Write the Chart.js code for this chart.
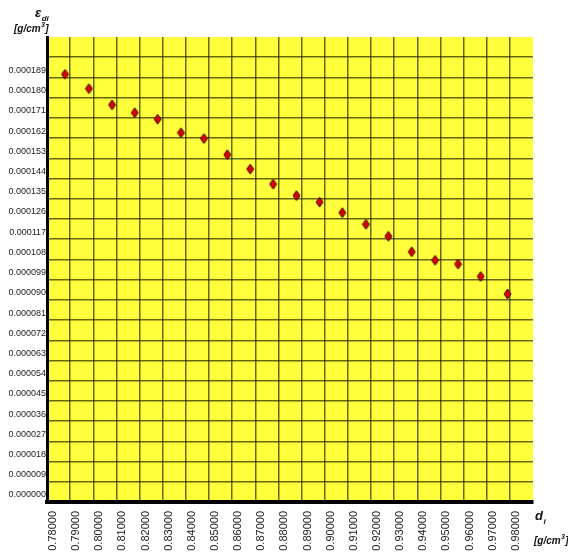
<!DOCTYPE html>
<html>
<head>
<meta charset="utf-8">
<script src="https://cdn.jsdelivr.net/npm/chart.js@4.4.1/dist/chart.umd.min.js"></script>
<style>
  html, body { margin: 0; padding: 0; background: #ffffff; }
  #wrap { position: relative; width: 568px; height: 554px; }
</style>
</head>
<body>
<div id="wrap"><canvas id="c" width="568" height="554"></canvas></div>
<script>
// ---- data ----
const densities = [0.7878, 0.7981, 0.8081, 0.8179, 0.8278, 0.8379, 0.8478, 0.8579, 0.8678, 0.8777,
                   0.8878, 0.8978, 0.9076, 0.9178, 0.9275, 0.9376, 0.9477, 0.9576, 0.9674, 0.9790];
const epsilonValues = [0.0001904, 0.0001840, 0.0001768, 0.0001733, 0.0001704, 0.0001644, 0.0001618,
                       0.0001546, 0.0001482, 0.0001415, 0.0001364, 0.0001335, 0.0001288, 0.0001236,
                       0.0001183, 0.0001114, 0.0001076, 0.0001059, 0.0001004, 0.0000926];
const xTickLabels = ['0.78000','0.79000','0.80000','0.81000','0.82000','0.83000','0.84000',
                     '0.85000','0.86000','0.87000','0.88000','0.89000','0.90000','0.91000',
                     '0.92000','0.93000','0.94000','0.95000','0.96000','0.97000','0.98000'];
const yTickLabels = ['0.000000','0.000009','0.000018','0.000027','0.000036','0.000045','0.000054',
                     '0.000063','0.000072','0.000081','0.000090','0.000099','0.000108','0.000117',
                     '0.000126','0.000135','0.000144','0.000153','0.000162','0.000171','0.000180',
                     '0.000189'];
const yExtraGrid = [0.000198];
const xRange = [0.78, 0.99];
const yRange = [0, 0.000207];

const xTickValues = xTickLabels.map(Number);
const yTickValues = yTickLabels.map(Number).concat(yExtraGrid);

// diamond marker
function makeDiamond(w, h) {
  const cv = document.createElement('canvas');
  cv.width = w + 2; cv.height = h + 2;
  const g = cv.getContext('2d');
  const cx = cv.width / 2, cy = cv.height / 2;
  g.beginPath();
  g.moveTo(cx, cy - h / 2);
  g.lineTo(cx + w / 2, cy);
  g.lineTo(cx, cy + h / 2);
  g.lineTo(cx - w / 2, cy);
  g.closePath();
  g.fillStyle = '#e00000';
  g.fill();
  g.lineWidth = 1;
  g.strokeStyle = '#3a1000';
  g.stroke();
  return cv;
}
const diamond = makeDiamond(7, 10);

const plotBg = {
  id: 'plotBg',
  beforeDraw(chart) {
    const { ctx, chartArea: a } = chart;
    ctx.save();
    ctx.fillStyle = '#ffff3c';
    ctx.fillRect(a.left, a.top, a.right - a.left, a.bottom - a.top);
    ctx.restore();
  }
};

function drawSubTitle(ctx, x, y, main, sub, font, subFont) {
  ctx.font = font;
  ctx.fillText(main, x, y);
  const w = ctx.measureText(main).width;
  ctx.font = subFont;
  ctx.fillText(sub, x + w + 0.5, y + 4);
}
function drawUnit(ctx, x, y) {
  const f = 'bold italic 10px "Liberation Sans", Arial, sans-serif';
  const fs = 'bold italic 6.5px "Liberation Sans", Arial, sans-serif';
  ctx.font = f;
  ctx.fillText('[g/cm', x, y);
  let w = ctx.measureText('[g/cm').width;
  ctx.font = fs;
  ctx.fillText('3', x + w + 0.5, y - 5);
  const w3 = ctx.measureText('3').width;
  ctx.font = f;
  ctx.fillText(']', x + w + w3 + 1, y);
}

const axisTitles = {
  id: 'axisTitles',
  afterDraw(chart) {
    const ctx = chart.ctx;
    ctx.save();
    ctx.fillStyle = '#111';
    ctx.textBaseline = 'alphabetic';
    ctx.textAlign = 'left';
    drawSubTitle(ctx, 35, 17, 'ε', 'di',
      'bold italic 13px "Liberation Sans", Arial, sans-serif',
      'bold italic 8px "Liberation Sans", Arial, sans-serif');
    drawUnit(ctx, 14, 32);
    drawSubTitle(ctx, 535, 520, 'd', 'i',
      'bold italic 13px "Liberation Sans", Arial, sans-serif',
      'bold italic 8px "Liberation Sans", Arial, sans-serif');
    drawUnit(ctx, 534, 544);
    ctx.restore();
  }
};

const gridColor = 'rgba(45,45,0,0.72)';

new Chart(document.getElementById('c'), {
  type: 'scatter',
  data: {
    datasets: [{
      data: densities.map((d, i) => ({ x: d, y: epsilonValues[i] })),
      pointStyle: diamond,
      pointRadius: 5,
      pointHoverRadius: 5,
      showLine: false
    }]
  },
  options: {
    responsive: false,
    animation: false,
    devicePixelRatio: 1,
    layout: { padding: { top: 37, right: 35, left: 0, bottom: 0 } },
    plugins: { legend: { display: false }, tooltip: { enabled: false } },
    scales: {
      x: {
        type: 'linear',
        min: xRange[0], max: xRange[1],
        afterBuildTicks: (s) => { s.ticks = xTickValues.map(v => ({ value: v })); },
        afterFit: (s) => { s.height = 52; },
        grid: { color: gridColor, lineWidth: 1.5, drawTicks: false },
        border: { display: true, color: '#000', width: 4 },
        ticks: {
          autoSkip: false,
          minRotation: 90, maxRotation: 90,
          padding: 9,
          labelOffset: 6,
          color: '#222',
          font: { family: '"Liberation Sans", Arial, sans-serif', size: 11 },
          callback: (v, i) => xTickLabels[i] ?? ''
        }
      },
      y: {
        type: 'linear',
        min: yRange[0], max: yRange[1],
        afterBuildTicks: (s) => { s.ticks = yTickValues.map(v => ({ value: v })); },
        afterFit: (s) => { s.width = 47; },
        grid: { color: gridColor, lineWidth: 1.5, drawTicks: false },
        border: { display: true, color: '#000', width: 3 },
        ticks: {
          autoSkip: false,
          padding: 1,
          labelOffset: -7,
          color: '#222',
          font: { family: '"Liberation Sans", Arial, sans-serif', size: 9 },
          callback: (v, i) => yTickLabels[i] ?? ''
        }
      }
    }
  },
  plugins: [plotBg, axisTitles]
});
</script>
</body>
</html>
